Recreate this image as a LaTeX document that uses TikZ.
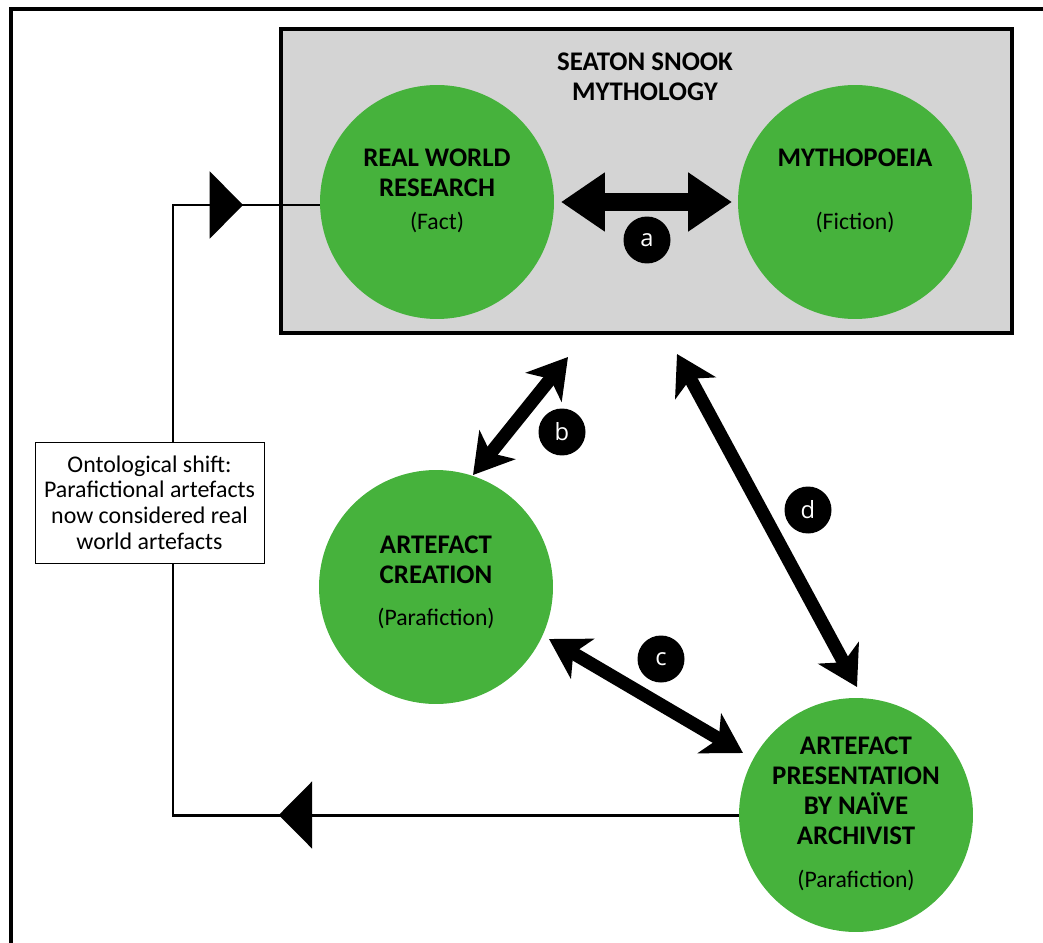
\documentclass[tikz,border=0pt]{standalone}
\usepackage{fontspec}
\setmainfont{Carlito}
\newfontfamily\badgefont{Open Sans}
\usetikzlibrary{arrows.meta,decorations.markings}

\definecolor{circgreen}{RGB}{70,178,60}
\definecolor{boxgrey}{RGB}{212,212,212}

\tikzset{
	frame/.style={line width=2.3pt},
	mythbox/.style={draw,fill=boxgrey,line width=2.4pt,minimum width=14.62cm,minimum height=6.08cm,inner sep=0pt},
	stage/.style={circle,fill=circgreen,minimum size=4.68cm,inner sep=0pt},
	heading/.style={align=center,font=\fontsize{15.3}{17}\selectfont\bfseries},
	sub/.style={font=\fontsize{13.5}{16}\selectfont},
	badge/.style={circle,fill=black,text=white,minimum size=0.94cm,inner sep=0pt,font=\badgefont\fontsize{13.5}{13.5}\selectfont},
	wide/.style={line width=10.5pt,{Triangle[length=25pt,width=32pt]}-{Triangle[length=25pt,width=32pt]}},
	link/.style={line width=7.5pt,{Stealth[length=22pt,width=26pt,inset=6pt]}-{Stealth[length=22pt,width=26pt,inset=6pt]}},
	feedback/.style={line width=1.7pt,postaction={decorate},
		decoration={markings,
			mark=at position 9.2cm with {\arrow{Triangle[length=19pt,width=38pt]}},
			mark=at position 24.92cm with {\arrow{Triangle[length=19pt,width=38pt]}}}},
	shiftbox/.style={draw,fill=white,line width=0.5pt,align=center,minimum width=4.58cm,minimum height=2.42cm,inner sep=2pt,font=\fontsize{13.6}{14.6}\selectfont}
}

\begin{document}
\begin{tikzpicture}[x=0.02cm,y=-0.02cm]
	\useasboundingbox (0,0) rectangle (1043,942);
	\draw[frame] (11,950) -- (11,9) -- (1050,9);

	% grey box
	\node[mythbox] (myth) at (646.5,181) {};
	\node[heading] (mythtitle) at (645,77) {SEATON SNOOK\\MYTHOLOGY};

	% the four stages
	\node[stage] (research) at (437,202) {};
	\node[stage] (mythopoeia) at (855,202) {};
	\node[stage] (creation) at (436,587) {};
	\node[stage] (presentation) at (856,815) {};

	\node[heading] (researchtxt) at (437,172.5) {REAL WORLD\\RESEARCH};
	\node[sub] (factttxt) at (437,222) {(Fact)};
	\node[heading] (mythtxt) at (855,158) {MYTHOPOEIA};
	\node[sub] (fictiontxt) at (855,222) {(Fiction)};
	\node[heading] (creationtxt) at (436,560) {ARTEFACT\\CREATION};
	\node[sub] (paratxt1) at (436,618) {(Parafiction)};
	\node[heading] (presenttxt) at (856,791) {ARTEFACT\\PRESENTATION\\BY NAÏVE\\ARCHIVIST};
	\node[sub] (paratxt2) at (856,880) {(Parafiction)};

	% double arrows
	\coordinate (a1) at (561,202);
	\coordinate (a2) at (732,202);
	\coordinate (b1) at (568,357);
	\coordinate (b2) at (473,475);
	\coordinate (c1) at (549,639);
	\coordinate (c2) at (743,753);
	\coordinate (d1) at (677,354);
	\coordinate (d2) at (857,687);
	\draw[wide] (a1) -- (a2);
	\draw[link] (b1) -- (b2);
	\draw[link] (c1) -- (c2);
	\draw[link] (d1) -- (d2);

	\node[badge] (ba) at (647,240) {a};
	\node[badge] (bb) at (562,432) {b};
	\node[badge] (bc) at (661,659) {c};
	\node[badge] (bd) at (808,510) {d};

	% feedback loop
	\coordinate (loopbot) at (173,815);
	\coordinate (looptop) at (173,205);
	\draw[feedback] (presentation.west) -- (loopbot) -- (looptop) -- (research.west |- looptop);

	\node[shiftbox] (shift) at (149.5,502.5) {Ontological shift:\\Parafictional artefacts\\now considered real\\world artefacts};
\end{tikzpicture}
\end{document}
